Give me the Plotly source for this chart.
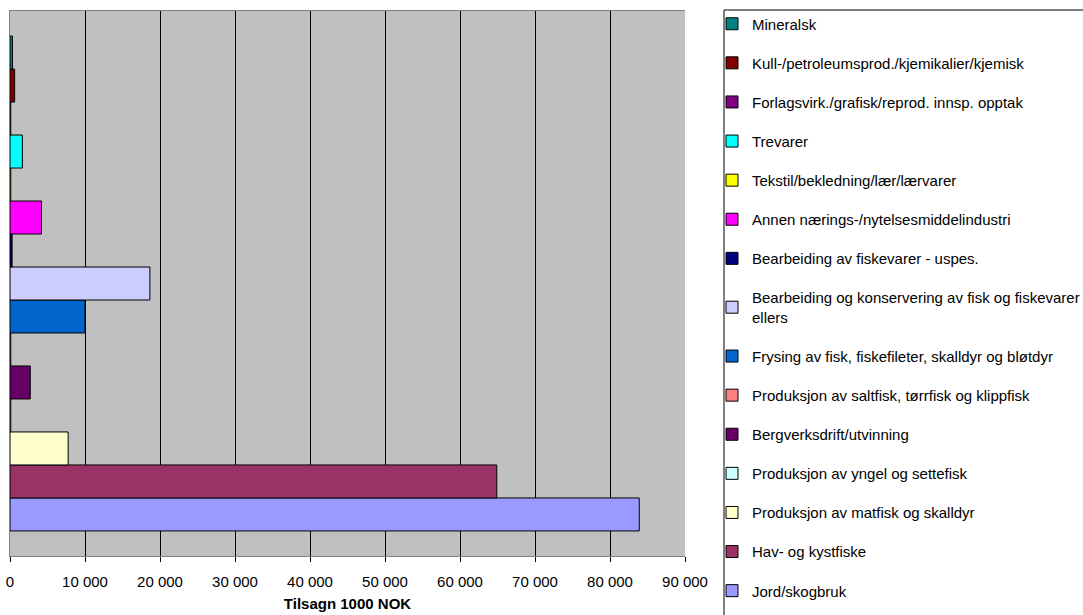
import plotly.graph_objects as go

# Series, bottom bar first
series_names = [
    "Jord/skogbruk",
    "Hav- og kystfiske",
    "Produksjon av matfisk og skalldyr",
    "Produksjon av yngel og settefisk",
    "Bergverksdrift/utvinning",
    "Produksjon av saltfisk, tørrfisk og klippfisk",
    "Frysing av fisk, fiskefileter, skalldyr og bløtdyr",
    "Bearbeiding og konservering av fisk og fiskevarer<br>ellers",
    "Bearbeiding av fiskevarer - uspes.",
    "Annen nærings-/nytelsesmiddelindustri",
    "Tekstil/bekledning/lær/lærvarer",
    "Trevarer",
    "Forlagsvirk./grafisk/reprod. innsp. opptak",
    "Kull-/petroleumsprod./kjemikalier/kjemisk",
    "Mineralsk",
]
series_values = [83900, 64900, 7750, 100, 2700, 100, 10000, 18650, 280, 4200, 100, 1650, 100, 620, 330]
series_colors = [
    "#9999FF", "#993366", "#FFFFCC", "#CCFFFF", "#660066", "#FF8080", "#0066CC",
    "#CCCCFF", "#000080", "#FF00FF", "#FFFF00", "#00FFFF", "#800080", "#800000", "#008080",
]
category = [""]
x_ticks = [0, 10000, 20000, 30000, 40000, 50000, 60000, 70000, 80000, 90000]

n = len(series_names)
fig = go.Figure()
for i, (name, val, col) in enumerate(zip(series_names, series_values, series_colors)):
    fig.add_trace(go.Bar(
        y=category, x=[val], name=name, orientation="h",
        marker=dict(color=col, line=dict(color="black", width=1)),
        legendgroup=f"g{i}", legendrank=n - i,
    ))

W, H = 1083, 615
ml, mr, mt, mb = 10, 398, 11, 59
pw, ph = W - ml - mr, H - mt - mb

def px_x(p):
    return (p - ml) / pw

def px_y(p):
    return (H - mb - p) / ph

fig.update_layout(
    width=W, height=H,
    margin=dict(l=ml, r=mr, t=mt, b=mb, autoexpand=False),
    paper_bgcolor="white", plot_bgcolor="#C0C0C0",
    barmode="group", bargap=0.092, bargroupgap=0,
    separators=", ",
    font=dict(family="Liberation Sans, Arial, sans-serif", size=15, color="black"),
    xaxis=dict(
        range=[0, 90000], tickvals=x_ticks, tickformat=",d",
        showgrid=True, gridcolor="black", gridwidth=1,
        showline=True, linecolor="#808080", linewidth=1, mirror=True,
        ticks="outside", ticklen=5, tickcolor="black",
        tickfont=dict(size=15), ticklabelstandoff=7,
        title=dict(text="<b>Tilsagn 1000 NOK</b>", font=dict(size=15), standoff=9),
        zeroline=False,
    ),
    yaxis=dict(
        showticklabels=False, showgrid=False, zeroline=False,
        showline=True, linecolor="#808080", linewidth=1,
    ),
    legend=dict(
        x=px_x(712), xanchor="left", y=px_y(7.5), yanchor="top",
        traceorder="grouped", tracegroupgap=16.6,
        borderwidth=0, bgcolor="rgba(0,0,0,0)",
        font=dict(size=15), maxheight=1.0,
    ),
    shapes=[dict(
        type="rect", xref="paper", yref="paper",
        x0=px_x(724), x1=px_x(1100), y0=px_y(640), y1=px_y(10),
        line=dict(color="black", width=1), fillcolor="rgba(0,0,0,0)", layer="below",
    )],
    showlegend=True,
)

fig.write_html(
    "out.html",
    config={"displayModeBar": False},
    post_script="document.body.style.margin='0px';",
)
